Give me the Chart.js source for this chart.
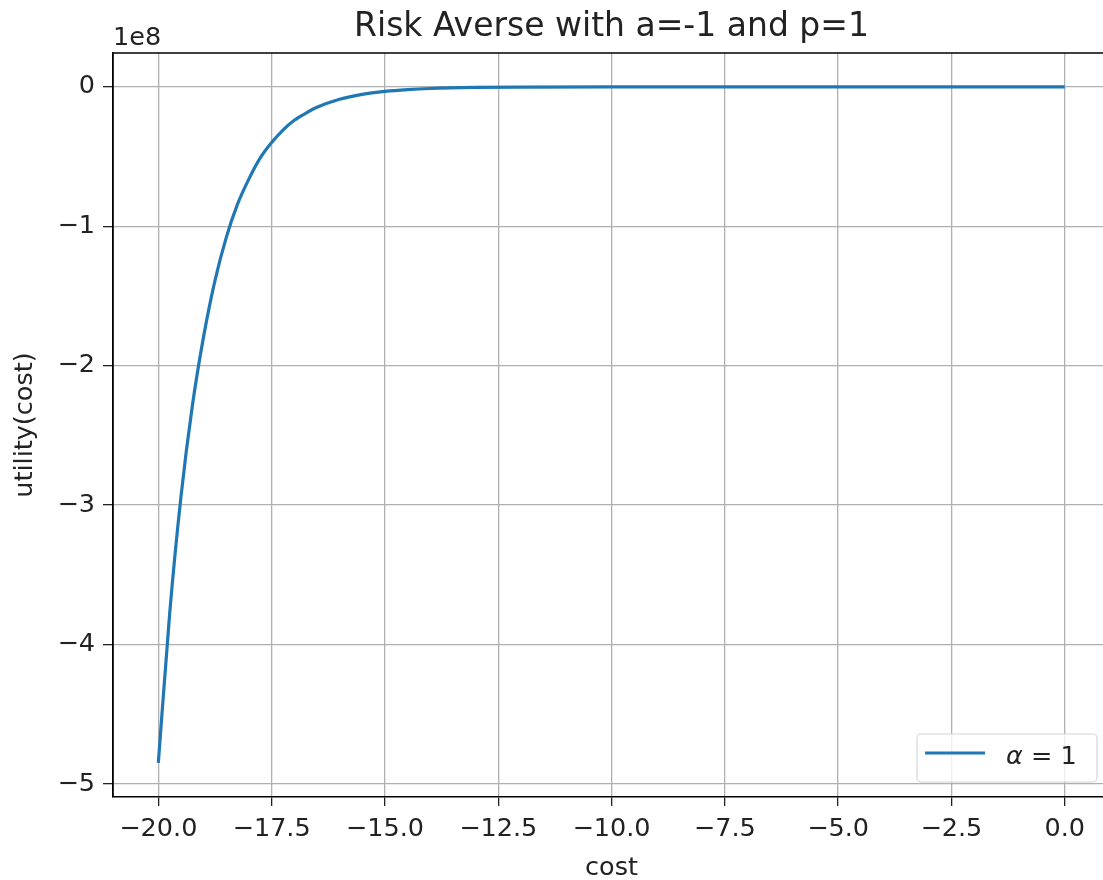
<!DOCTYPE html>
<html lang="en">
<head>
    <meta charset="UTF-8">
    <title>Risk Averse with a=-1 and p=1</title>
    <script src="https://cdn.jsdelivr.net/npm/chart.js"></script>
    <style>
        html, body { margin: 0; padding: 0; background: #fff; overflow: hidden; }
        #riskChart { display: block; }
    </style>
</head>
<body>
    <canvas id="riskChart" width="1120" height="880"></canvas>

    <script>
        // values (utility in units of 1e8)
        const costs = [-20, -19.75, -19.5, -19.25, -19, -18.75, -18.5, -18.25, -18, -17.75, -17.5, -17.25,
                       -17, -16.75, -16.5, -16, -15.5, -15, -14.5, -14, -13, -12, -10, -7.5, -5, -2.5, 0];
        const utility = [-4.85, -3.78, -2.94, -2.29, -1.79, -1.39, -1.08, -0.84, -0.66, -0.51, -0.40, -0.31,
                         -0.24, -0.19, -0.147, -0.089, -0.054, -0.033, -0.020, -0.012, -0.0044, -0.0016, -0.0002, 0, 0, 0, 0];
        const xTicks = [-20, -17.5, -15, -12.5, -10, -7.5, -5, -2.5, 0];
        const yTicks = [-5, -4, -3, -2, -1, 0];
        const seriesLabel = '\u03b1 = 1';

        const FONT = '"DejaVu Sans", sans-serif';
        const TXT = 25.5;
        const minus = v => String(v).replace('-', '\u2212');

        // title, offset text, top/left spines and legend, drawn the matplotlib way
        const extras = {
            id: 'extras',
            afterDraw(chart) {
                const ctx = chart.ctx;
                const area = chart.chartArea;
                ctx.save();
                ctx.strokeStyle = '#000';
                ctx.lineWidth = 1.4;
                ctx.beginPath();
                ctx.moveTo(area.left, area.bottom);
                ctx.lineTo(area.left, area.top);
                ctx.lineTo(area.right, area.top);
                ctx.stroke();

                ctx.fillStyle = '#222';
                ctx.font = '33px ' + FONT;
                ctx.textAlign = 'center';
                ctx.textBaseline = 'alphabetic';
                ctx.fillText('Risk Averse with a=-1 and p=1', (area.left + area.right) / 2, 36);

                ctx.font = TXT + 'px ' + FONT;
                ctx.textAlign = 'left';
                ctx.fillText('1e8', area.left, 45);

                // legend box
                const bx = 917, by = 734, bw = 180, bh = 48, r = 4;
                ctx.beginPath();
                ctx.moveTo(bx + r, by);
                ctx.arcTo(bx + bw, by, bx + bw, by + bh, r);
                ctx.arcTo(bx + bw, by + bh, bx, by + bh, r);
                ctx.arcTo(bx, by + bh, bx, by, r);
                ctx.arcTo(bx, by, bx + bw, by, r);
                ctx.closePath();
                ctx.fillStyle = 'rgba(255,255,255,0.8)';
                ctx.fill();
                ctx.strokeStyle = '#d6d6d6';
                ctx.lineWidth = 1.2;
                ctx.stroke();

                ctx.strokeStyle = '#1f77b4';
                ctx.lineWidth = 3;
                ctx.beginPath();
                ctx.moveTo(925, 753);
                ctx.lineTo(985, 753);
                ctx.stroke();

                ctx.fillStyle = '#222';
                ctx.textBaseline = 'alphabetic';
                ctx.font = 'italic ' + TXT + 'px ' + FONT;
                ctx.fillText(seriesLabel.slice(0, 1), 1006, 764);
                const w = ctx.measureText(seriesLabel.slice(0, 1)).width;
                ctx.font = TXT + 'px ' + FONT;
                ctx.fillText(seriesLabel.slice(1), 1006 + w, 764);
                ctx.restore();
            }
        };

        new Chart(document.getElementById('riskChart').getContext('2d'), {
            type: 'line',
            data: {
                labels: costs,
                datasets: [{
                    label: seriesLabel,
                    data: costs.map((c, i) => ({ x: c, y: utility[i] })),
                    borderColor: '#1f77b4',
                    borderWidth: 3.2,
                    pointRadius: 0,
                    fill: false,
                    cubicInterpolationMode: 'monotone'
                }]
            },
            options: {
                responsive: false,
                animation: false,
                layout: { padding: { top: 53, right: 10, left: 0, bottom: 0 } },
                plugins: { legend: { display: false }, title: { display: false }, tooltip: { enabled: false } },
                scales: {
                    x: {
                        type: 'linear',
                        min: -21,
                        max: 1,
                        afterBuildTicks: s => { s.ticks = xTicks.map(v => ({ value: v })); },
                        afterFit: s => { s.height = 83; },
                        ticks: {
                            color: '#222',
                            font: { family: FONT, size: TXT },
                            padding: 8,
                            maxRotation: 0,
                            autoSkip: false,
                            callback: v => minus(v.toFixed(1))
                        },
                        grid: { color: '#b0b0b0', lineWidth: 1.3, tickColor: '#222', tickLength: 9 },
                        border: { color: '#000', width: 1.4 },
                        title: { display: true, text: 'cost', color: '#222', font: { family: FONT, size: TXT }, padding: { top: 0, bottom: -4 } }
                    },
                    y: {
                        min: -5.094,
                        max: 0.2426,
                        afterBuildTicks: s => { s.ticks = yTicks.map(v => ({ value: v })); },
                        afterFit: s => { s.width = 113; },
                        ticks: {
                            color: '#222',
                            font: { family: FONT, size: TXT },
                            padding: 8,
                            callback: v => minus(v)
                        },
                        grid: { color: '#b0b0b0', lineWidth: 1.3, tickColor: '#222', tickLength: 10 },
                        border: { color: '#000', width: 1.4 },
                        title: { display: true, text: 'utility(cost)', color: '#222', font: { family: FONT, size: TXT }, padding: { top: 10 } }
                    }
                }
            },
            plugins: [extras]
        });
    </script>
</body>
</html>
